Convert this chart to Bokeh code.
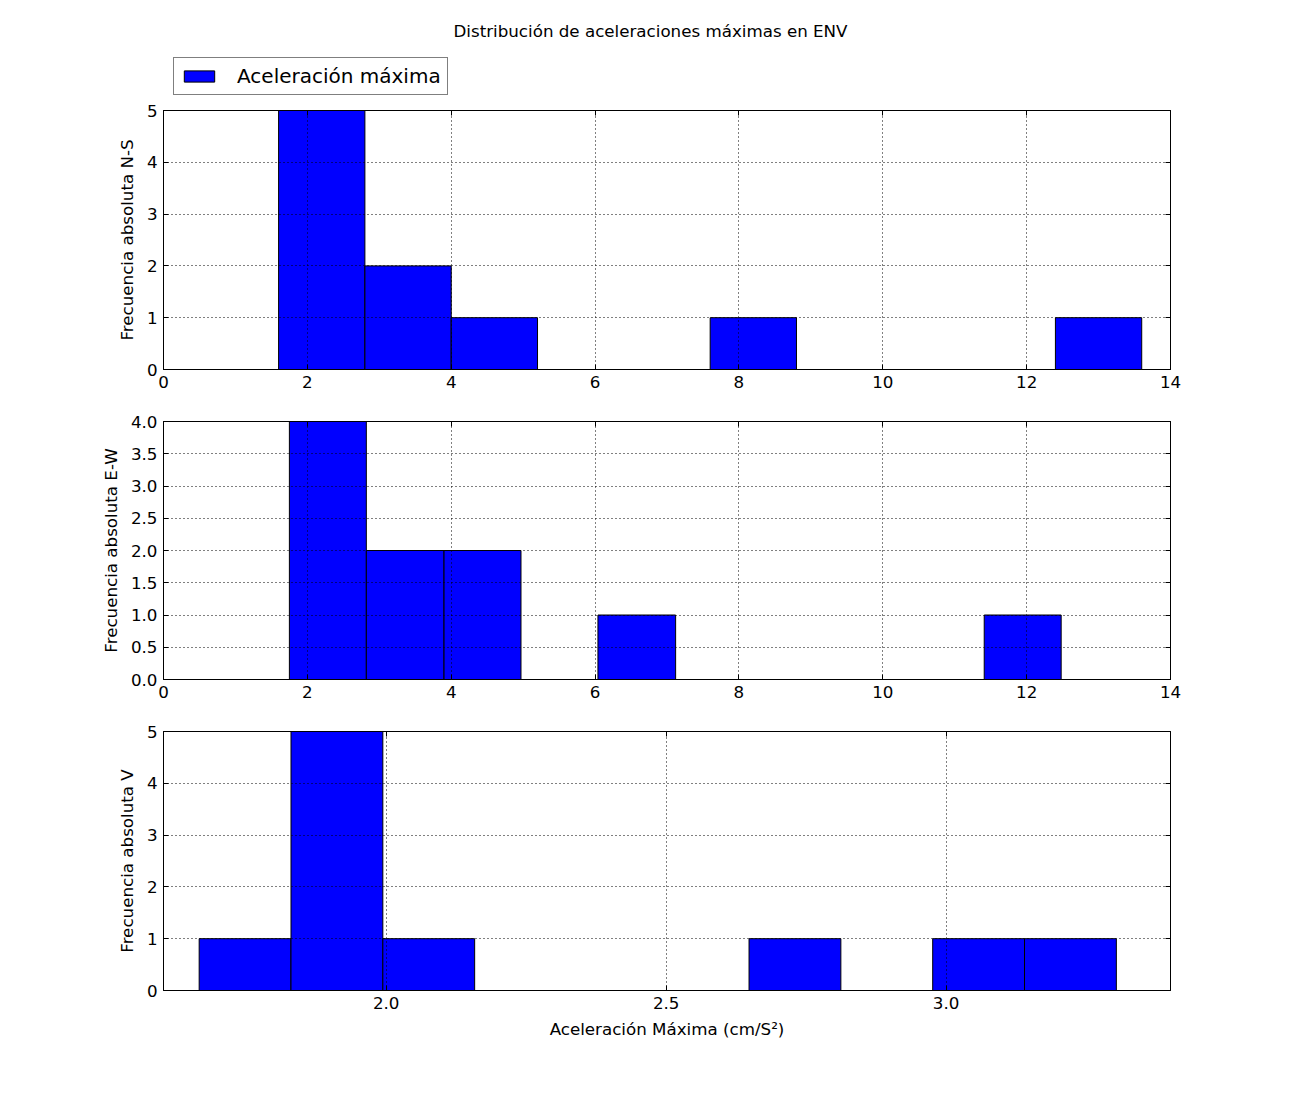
from bokeh.plotting import figure
from bokeh.layouts import column
from bokeh.models import (Range1d, FixedTicker, PrintfTickFormatter, LinearAxis,
                          CustomJSTickFormatter, Legend, LegendItem, Label)
from bokeh.embed import file_html
from bokeh.resources import INLINE

# ---- data ----
title_text = "Distribución de aceleraciones máximas en ENV"
legend_text = "Aceleración máxima"
xlabel_text = "Aceleración Máxima (cm/S²)"

ns_edges = [1.6, 2.8, 4.0, 5.2, 6.4, 7.6, 8.8, 10.0, 11.2, 12.4, 13.6]
ns_counts = [5, 2, 1, 0, 0, 1, 0, 0, 0, 1]

ew_edges = [1.75, 2.82, 3.90, 4.97, 6.04, 7.12, 8.19, 9.26, 10.34, 11.41, 12.48]
ew_counts = [4, 2, 2, 0, 1, 0, 0, 0, 0, 1]

v_edges = [1.666, 1.830, 1.994, 2.158, 2.321, 2.485, 2.648, 2.812, 2.976, 3.140, 3.304]
v_counts = [1, 5, 1, 0, 0, 0, 1, 0, 1, 1]

ylabels = ["Frecuencia absoluta N-S", "Frecuencia absoluta E-W", "Frecuencia absoluta V"]

x_ticks_ab = [0, 2, 4, 6, 8, 10, 12, 14]
x_ticks_v = [2.0, 2.5, 3.0]
y_ticks_ns = [0, 1, 2, 3, 4, 5]
y_ticks_ew = [0, 0.5, 1.0, 1.5, 2.0, 2.5, 3.0, 3.5, 4.0]
y_ticks_v = [0, 1, 2, 3, 4, 5]

FONT = "DejaVu Sans"
FS = "16.7px"
BAR_FILL = "#0000ff"
CANVAS_W = 1292
FRAME_LEFT = 163


def make_panel(edges, counts, xr, yr, xticks, yticks, ylabel, xfmt, yfmt,
               top_border, bottom_border, fheight):
    p = figure(output_backend="svg", toolbar_location=None,
               frame_width=1007, frame_height=fheight,
               x_range=Range1d(*xr), y_range=Range1d(*yr),
               min_border_left=FRAME_LEFT, min_border_right=122,
               min_border_top=top_border, min_border_bottom=bottom_border,
               background_fill_color="white", border_fill_color="white")
    nonzero = [i for i, c in enumerate(counts) if c > 0]
    r = p.quad(left=[edges[i] for i in nonzero],
               right=[edges[i + 1] for i in nonzero],
               top=[counts[i] for i in nonzero], bottom=0,
               fill_color=BAR_FILL, line_color="black", line_width=1)
    p.outline_line_color = "black"
    p.outline_line_width = 1
    for ax, ticks, fmt in ((p.xaxis[0], xticks, xfmt), (p.yaxis[0], yticks, yfmt)):
        ax.ticker = FixedTicker(ticks=ticks)
        if fmt:
            ax.formatter = PrintfTickFormatter(format=fmt)
        ax.major_tick_in = 5
        ax.major_tick_out = 0
        ax.minor_tick_line_color = None
        ax.axis_line_color = "black"
        ax.major_tick_line_color = "black"
        ax.major_label_text_font = FONT
        ax.major_label_text_font_size = FS
        ax.major_label_text_color = "black"
        ax.major_label_standoff = 6
        ax.axis_label_text_font = FONT
        ax.axis_label_text_font_size = FS
        ax.axis_label_text_font_style = "normal"
        ax.axis_label_text_color = "black"
        ax.axis_label_standoff = 7
    p.yaxis[0].axis_label = ylabel
    blank = CustomJSTickFormatter(code="return ''")
    top_ax = LinearAxis(ticker=FixedTicker(ticks=xticks), formatter=blank,
                        major_tick_in=5, major_tick_out=0, minor_tick_line_color=None,
                        major_label_standoff=0, major_label_text_font_size="1px")
    right_ax = LinearAxis(ticker=FixedTicker(ticks=yticks), formatter=blank,
                          major_tick_in=5, major_tick_out=0, minor_tick_line_color=None,
                          major_label_standoff=0, major_label_text_font_size="1px")
    p.add_layout(top_ax, "above")
    p.add_layout(right_ax, "right")
    for g in (p.xgrid[0], p.ygrid[0]):
        g.grid_line_color = "black"
        g.grid_line_dash = "1 3"
        g.grid_line_width = 1
        g.level = "overlay"
    return p, r


# header: figure title and legend (its frame is aligned with the panels below)
HEADER_H = 96
head = figure(output_backend="svg", toolbar_location=None,
              width=CANVAS_W, height=HEADER_H, min_border=0,
              x_range=Range1d(0, 1), y_range=Range1d(0, 1),
              x_axis_location=None, y_axis_location=None,
              background_fill_color="white", border_fill_color="white")
head.outline_line_color = None
head.xgrid.visible = False
head.ygrid.visible = False
# legend proxy: same style as the N-S bars, hidden in the header itself
leg_r = head.quad(left=[ns_edges[0]], right=[ns_edges[1]], top=[ns_counts[0]], bottom=0,
                  fill_color=BAR_FILL, line_color="black", line_width=1, visible=False)
legend = Legend(items=[LegendItem(label=legend_text, renderers=[leg_r])],
                location=(10, 1), orientation="vertical",
                label_text_font=FONT, label_text_font_size="20px",
                label_text_color="black",
                glyph_width=38, glyph_height=14, label_standoff=19,
                padding=6, margin=0, spacing=0,
                border_line_color="black", border_line_width=1,
                background_fill_color="white", background_fill_alpha=1)
head.add_layout(legend, "center")
head.add_layout(Label(x=650 - FRAME_LEFT, y=HEADER_H - 30, x_units="screen", y_units="screen",
                      text=title_text, text_align="center", text_baseline="middle",
                      text_font=FONT, text_font_size=FS, text_color="black"))

p1, r1 = make_panel(ns_edges, ns_counts, (0, 14), (0, 5), x_ticks_ab, y_ticks_ns,
                    ylabels[0], None, None, 110 - HEADER_H, 36, 259)
p2, r2 = make_panel(ew_edges, ew_counts, (0, 14), (0, 4), x_ticks_ab, y_ticks_ew,
                    ylabels[1], None, "%.1f", 16, 36, 258)
p3, r3 = make_panel(v_edges, v_counts, (1.6023, 3.4007), (0, 5), x_ticks_v, y_ticks_v,
                    ylabels[2], "%.1f", None, 16, 70, 259)
p3.below[0].axis_label = xlabel_text

layout = column(head, p1, p2, p3, spacing=0)
open("out.html", "w").write(file_html(layout, INLINE))
